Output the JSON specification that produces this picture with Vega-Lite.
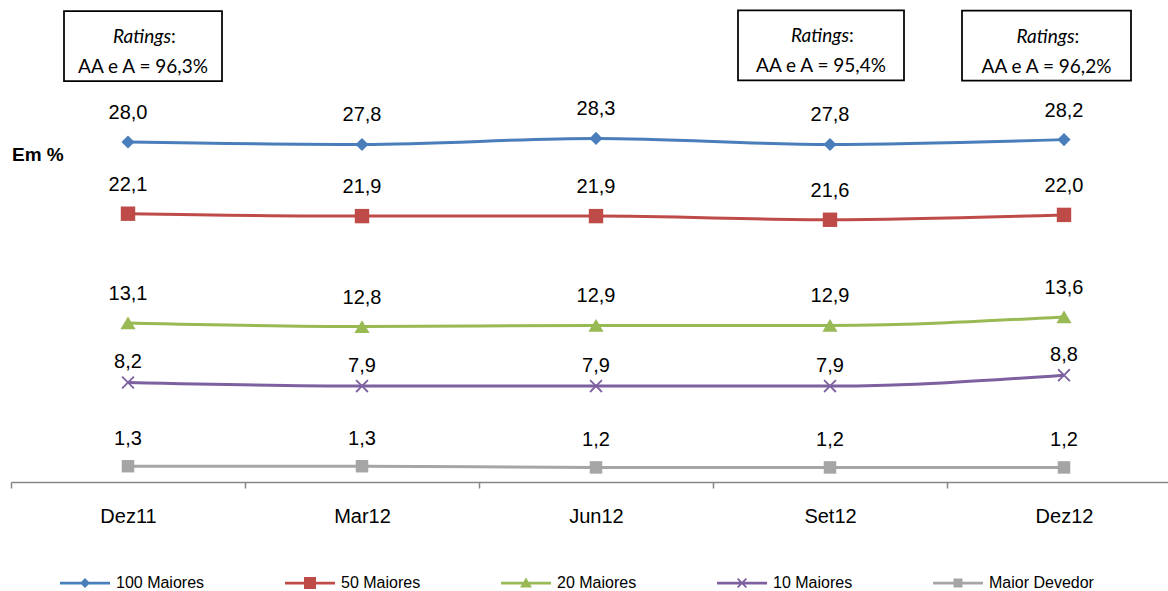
{
  "$schema": "https://vega.github.io/schema/vega-lite/v6.json",
  "width": 1157,
  "height": 482,
  "autosize": "none",
  "padding": {"left": 11, "top": 0, "right": 0, "bottom": 109},
  "background": "white",
  "config": {
    "view": {"stroke": null},
    "font": "Liberation Sans",
    "locale": {"number": {"decimal": ",", "thousands": ".", "grouping": [3], "currency": ["R$", ""]}}
  },
  "data": {
    "values": [
      {"periodo": "Dez11", "serie": "100 Maiores", "valor": 28.0},
      {"periodo": "Mar12", "serie": "100 Maiores", "valor": 27.8},
      {"periodo": "Jun12", "serie": "100 Maiores", "valor": 28.3},
      {"periodo": "Set12", "serie": "100 Maiores", "valor": 27.8},
      {"periodo": "Dez12", "serie": "100 Maiores", "valor": 28.2},
      {"periodo": "Dez11", "serie": "50 Maiores", "valor": 22.1},
      {"periodo": "Mar12", "serie": "50 Maiores", "valor": 21.9},
      {"periodo": "Jun12", "serie": "50 Maiores", "valor": 21.9},
      {"periodo": "Set12", "serie": "50 Maiores", "valor": 21.6},
      {"periodo": "Dez12", "serie": "50 Maiores", "valor": 22.0},
      {"periodo": "Dez11", "serie": "20 Maiores", "valor": 13.1},
      {"periodo": "Mar12", "serie": "20 Maiores", "valor": 12.8},
      {"periodo": "Jun12", "serie": "20 Maiores", "valor": 12.9},
      {"periodo": "Set12", "serie": "20 Maiores", "valor": 12.9},
      {"periodo": "Dez12", "serie": "20 Maiores", "valor": 13.6},
      {"periodo": "Dez11", "serie": "10 Maiores", "valor": 8.2},
      {"periodo": "Mar12", "serie": "10 Maiores", "valor": 7.9},
      {"periodo": "Jun12", "serie": "10 Maiores", "valor": 7.9},
      {"periodo": "Set12", "serie": "10 Maiores", "valor": 7.9},
      {"periodo": "Dez12", "serie": "10 Maiores", "valor": 8.8},
      {"periodo": "Dez11", "serie": "Maior Devedor", "valor": 1.3},
      {"periodo": "Mar12", "serie": "Maior Devedor", "valor": 1.3},
      {"periodo": "Jun12", "serie": "Maior Devedor", "valor": 1.2},
      {"periodo": "Set12", "serie": "Maior Devedor", "valor": 1.2},
      {"periodo": "Dez12", "serie": "Maior Devedor", "valor": 1.2}
    ]
  },
  "encoding": {
    "x": {
      "field": "periodo",
      "type": "nominal",
      "scale": {"type": "band", "domain": ["Dez11", "Mar12", "Jun12", "Set12", "Dez12"], "range": [0, 1170], "paddingInner": 0, "paddingOuter": 0},
      "axis": {
        "title": null,
        "tickBand": "extent",
        "domainColor": "#868686",
        "domainWidth": 1.5,
        "tickColor": "#868686",
        "tickWidth": 1.5,
        "tickSize": 6,
        "labelFontSize": 20,
        "labelFont": "Liberation Sans",
        "labelColor": "black",
        "labelPadding": 18,
        "labelAngle": 0,
        "grid": false
      }
    },
    "y": {
      "field": "valor",
      "type": "quantitative",
      "scale": {"domain": [0, 39.7], "nice": false, "zero": true},
      "axis": null
    }
  },
  "layer": [
    {
      "mark": {"type": "line", "strokeWidth": 3, "interpolate": "monotone"},
      "encoding": {
        "color": {
          "field": "serie", "type": "nominal",
          "scale": {"domain": ["100 Maiores", "50 Maiores", "20 Maiores", "10 Maiores", "Maior Devedor"], "range": ["#4A7EBB", "#BE4B48", "#98B954", "#7D60A0", "#A5A5A5"]},
          "legend": {
            "title": null,
            "orient": "none",
            "legendX": 49,
            "legendY": 558,
            "direction": "horizontal",
            "columns": 5,
            "columnPadding": 80,
            "symbolSize": 2500,
            "symbolOpacity": 1,
            "symbolStrokeWidth": 0,
            "labelFontSize": 16,
            "labelFont": "Liberation Sans",
            "labelColor": "black",
            "labelOffset": 6
          }
        }
      }
    },
    {
      "mark": {"type": "point", "filled": true, "opacity": 1, "size": 0},
      "encoding": {
        "color": {
          "field": "serie", "type": "nominal",
          "scale": {"domain": ["100 Maiores", "50 Maiores", "20 Maiores", "10 Maiores", "Maior Devedor"], "range": ["#4A7EBB", "#BE4B48", "#98B954", "#7D60A0", "#A5A5A5"]}
        },
        "shape": {
          "field": "serie", "type": "nominal",
          "scale": {"domain": ["100 Maiores", "50 Maiores", "20 Maiores", "10 Maiores", "Maior Devedor"], "range": [
            "M-1,-0.055H1V0.055H-1ZM0,-0.2L0.2,0L0,0.2L-0.2,0Z",
            "M-1,-0.055H1V0.055H-1ZM-0.24,-0.24H0.24V0.24H-0.24Z",
            "M-1,-0.055H1V0.055H-1ZM0,-0.22L0.24,0.18L-0.24,0.18Z",
            "M-1,-0.055H1V0.055H-1ZM-0.2,-0.15L-0.15,-0.2L0,-0.05L0.15,-0.2L0.2,-0.15L0.05,0L0.2,0.15L0.15,0.2L0,0.05L-0.15,0.2L-0.2,0.15L-0.05,0Z",
            "M-1,-0.055H1V0.055H-1ZM-0.18,-0.18H0.18V0.18H-0.18Z"
          ]},
          "legend": null
        }
      }
    },
    {
      "transform": [{"filter": "datum.serie === '100 Maiores'"}],
      "mark": {"type": "point", "filled": true, "opacity": 1, "size": 256, "color": "#4A7EBB", "shape": "M0,-0.82L0.82,0L0,0.82L-0.82,0Z"}
    },
    {
      "transform": [{"filter": "datum.serie === '50 Maiores'"}],
      "mark": {"type": "point", "filled": true, "opacity": 1, "size": 256, "color": "#BE4B48", "shape": "M-0.9,-0.9H0.9V0.9H-0.9Z"}
    },
    {
      "transform": [{"filter": "datum.serie === '20 Maiores'"}],
      "mark": {"type": "point", "filled": true, "opacity": 1, "size": 256, "color": "#98B954", "shape": "M0,-0.8L0.95,0.8L-0.95,0.8Z"}
    },
    {
      "transform": [{"filter": "datum.serie === '10 Maiores'"}],
      "mark": {"type": "point", "filled": true, "opacity": 1, "size": 256, "color": "#7D60A0", "shape": "M-0.82,-0.66L-0.66,-0.82L0,-0.16L0.66,-0.82L0.82,-0.66L0.16,0L0.82,0.66L0.66,0.82L0,0.16L-0.66,0.82L-0.82,0.66L-0.16,0Z"}
    },
    {
      "transform": [{"filter": "datum.serie === 'Maior Devedor'"}],
      "mark": {"type": "point", "filled": true, "opacity": 1, "size": 256, "color": "#A5A5A5", "shape": "M-0.78,-0.78H0.78V0.78H-0.78Z"}
    },
    {
      "mark": {
        "type": "text",
        "fontSize": 20,
        "font": "Liberation Sans",
        "color": "black",
        "baseline": "middle",
        "dy": {"expr": "datum.serie === '10 Maiores' ? -20 : datum.serie === 'Maior Devedor' ? -27 : -29"}
      },
      "encoding": {
        "text": {"field": "valor", "type": "quantitative", "format": ".1f"}
      }
    },
    {
      "transform": [{"filter": "datum.serie === '100 Maiores' && datum.periodo === 'Dez11'"}],
      "mark": {"type": "text", "fontSize": 19, "fontWeight": "bold", "font": "Liberation Sans", "color": "black", "align": "left", "baseline": "middle", "dx": -116, "dy": 13},
      "encoding": {"text": {"value": "Em %"}}
    },
    {
      "transform": [{"filter": "datum.serie === '100 Maiores' && datum.periodo === 'Dez11'"}],
      "layer": [
        {"mark": {"type": "bar", "width": 158, "xOffset": 15, "yOffset": -131, "y2Offset": -61, "fill": "white", "stroke": "black", "strokeWidth": 1.75}, "encoding": {"y2": {"field": "valor"}}},
        {"mark": {"type": "text", "font": "Lato", "fontSize": 19, "fontStyle": "italic", "color": "black", "align": "right", "baseline": "alphabetic", "dx": 43, "dy": -99}, "encoding": {"text": {"value": "Ratings"}}},
        {"mark": {"type": "text", "font": "Lato", "fontSize": 19, "color": "black", "align": "left", "baseline": "alphabetic", "dx": 43, "dy": -99}, "encoding": {"text": {"value": ":"}}},
        {"mark": {"type": "text", "font": "Lato", "fontSize": 19, "color": "black", "align": "center", "baseline": "alphabetic", "dx": 15, "dy": -69}, "encoding": {"text": {"value": "AA e A = 96,3%"}}}
      ]
    },
    {
      "transform": [{"filter": "datum.serie === '100 Maiores' && datum.periodo === 'Set12'"}],
      "layer": [
        {"mark": {"type": "bar", "width": 166, "xOffset": -9, "yOffset": -134, "y2Offset": -64, "fill": "white", "stroke": "black", "strokeWidth": 1.75}, "encoding": {"y2": {"field": "valor"}}},
        {"mark": {"type": "text", "font": "Lato", "fontSize": 19, "fontStyle": "italic", "color": "black", "align": "right", "baseline": "alphabetic", "dx": 19, "dy": -102}, "encoding": {"text": {"value": "Ratings"}}},
        {"mark": {"type": "text", "font": "Lato", "fontSize": 19, "color": "black", "align": "left", "baseline": "alphabetic", "dx": 19, "dy": -102}, "encoding": {"text": {"value": ":"}}},
        {"mark": {"type": "text", "font": "Lato", "fontSize": 19, "color": "black", "align": "center", "baseline": "alphabetic", "dx": -9, "dy": -72}, "encoding": {"text": {"value": "AA e A = 95,4%"}}}
      ]
    },
    {
      "transform": [{"filter": "datum.serie === '100 Maiores' && datum.periodo === 'Dez12'"}],
      "layer": [
        {"mark": {"type": "bar", "width": 169, "xOffset": -17.5, "yOffset": -129, "y2Offset": -59, "fill": "white", "stroke": "black", "strokeWidth": 1.75}, "encoding": {"y2": {"field": "valor"}}},
        {"mark": {"type": "text", "font": "Lato", "fontSize": 19, "fontStyle": "italic", "color": "black", "align": "right", "baseline": "alphabetic", "dx": 10.5, "dy": -97}, "encoding": {"text": {"value": "Ratings"}}},
        {"mark": {"type": "text", "font": "Lato", "fontSize": 19, "color": "black", "align": "left", "baseline": "alphabetic", "dx": 10.5, "dy": -97}, "encoding": {"text": {"value": ":"}}},
        {"mark": {"type": "text", "font": "Lato", "fontSize": 19, "color": "black", "align": "center", "baseline": "alphabetic", "dx": -17.5, "dy": -67}, "encoding": {"text": {"value": "AA e A = 96,2%"}}}
      ]
    }
  ]
}
